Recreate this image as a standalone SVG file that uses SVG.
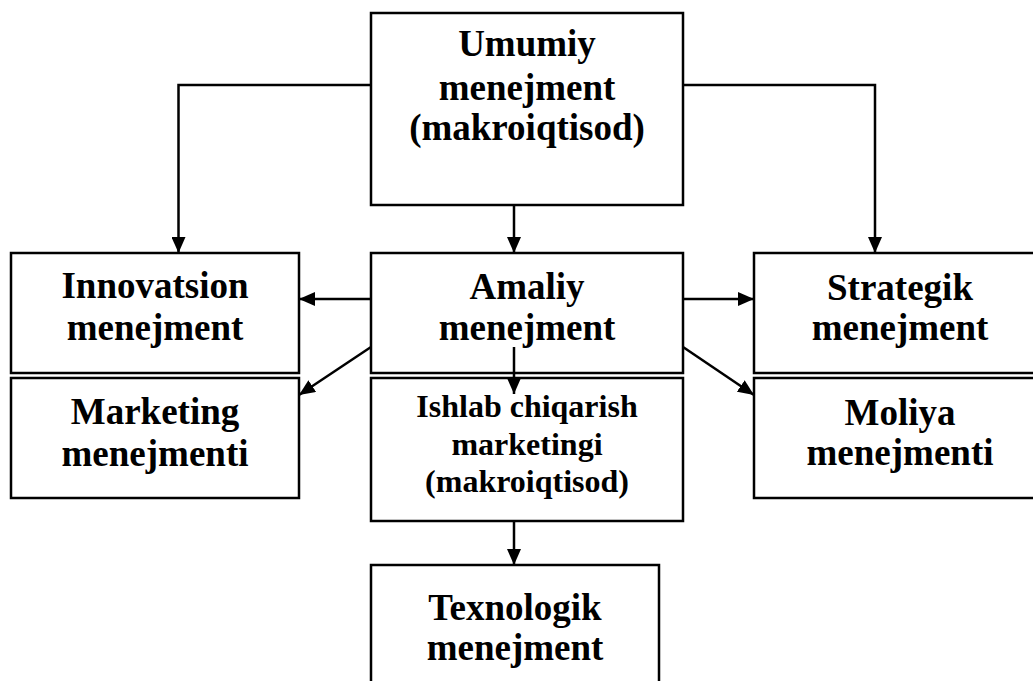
<svg xmlns="http://www.w3.org/2000/svg" width="1033" height="681" viewBox="0 0 1033 681">
<defs>
<marker id="ah" markerUnits="userSpaceOnUse" markerWidth="17" markerHeight="14" refX="16" refY="7" orient="auto">
<path d="M0,0 L16,7 L0,14 Z" fill="#000"/>
</marker>
<style>
.box{fill:#fff;stroke:#000;stroke-width:2.5}
.t{font-family:"Liberation Serif","Times New Roman",serif;font-weight:bold;font-size:37px;text-anchor:middle;fill:#000}
.s{font-size:32px}
.c{fill:none;stroke:#000;stroke-width:2.5;marker-end:url(#ah)}
</style>
</defs>
<rect width="1033" height="681" fill="#fff"/>
<g id="umumiy">
<rect class="box" x="371" y="13" width="312" height="192"/>
<text class="t" x="527" y="56">Umumiy</text>
<text class="t" x="527" y="100">menejment</text>
<text class="t" x="527" y="140">(makroiqtisod)</text>
</g>
<g id="innovatsion">
<rect class="box" x="11" y="253" width="288" height="120"/>
<text class="t" x="155" y="298">Innovatsion</text>
<text class="t" x="155" y="340">menejment</text>
</g>
<g id="amaliy">
<rect class="box" x="371" y="253" width="312" height="120"/>
<text class="t" x="527" y="299">Amaliy</text>
<text class="t" x="527" y="340">menejment</text>
</g>
<g id="strategik">
<rect class="box" x="754" y="253" width="292" height="120"/>
<text class="t" x="900" y="300">Strategik</text>
<text class="t" x="900" y="340">menejment</text>
</g>
<g id="marketing">
<rect class="box" x="11" y="378" width="288" height="120"/>
<text class="t" x="155" y="424">Marketing</text>
<text class="t" x="155" y="466">menejmenti</text>
</g>
<g id="ishlab">
<rect class="box" x="371" y="378" width="312" height="143"/>
<text class="t s" x="527" y="417">Ishlab chiqarish</text>
<text class="t s" x="527" y="455">marketingi</text>
<text class="t s" x="527" y="492">(makroiqtisod)</text>
</g>
<g id="moliya">
<rect class="box" x="754" y="378" width="292" height="120"/>
<text class="t" x="900" y="425">Moliya</text>
<text class="t" x="900" y="465">menejmenti</text>
</g>
<g id="texnologik">
<rect class="box" x="371" y="565" width="288" height="130"/>
<text class="t" x="515" y="620">Texnologik</text>
<text class="t" x="515" y="660">menejment</text>
</g>
<g id="connectors">
<path class="c" d="M371,85 H178.5 V253"/>
<path class="c" d="M683,85 H875 V253"/>
<path class="c" d="M514,205 V253"/>
<path class="c" d="M371,299 H299"/>
<path class="c" d="M683,299 H754"/>
<path class="c" d="M371,347 L299,395"/>
<path class="c" d="M683,347 L754,395"/>
<path class="c" d="M514,347 V394"/>
<path class="c" d="M514,521 V565"/>
</g>
</svg>
